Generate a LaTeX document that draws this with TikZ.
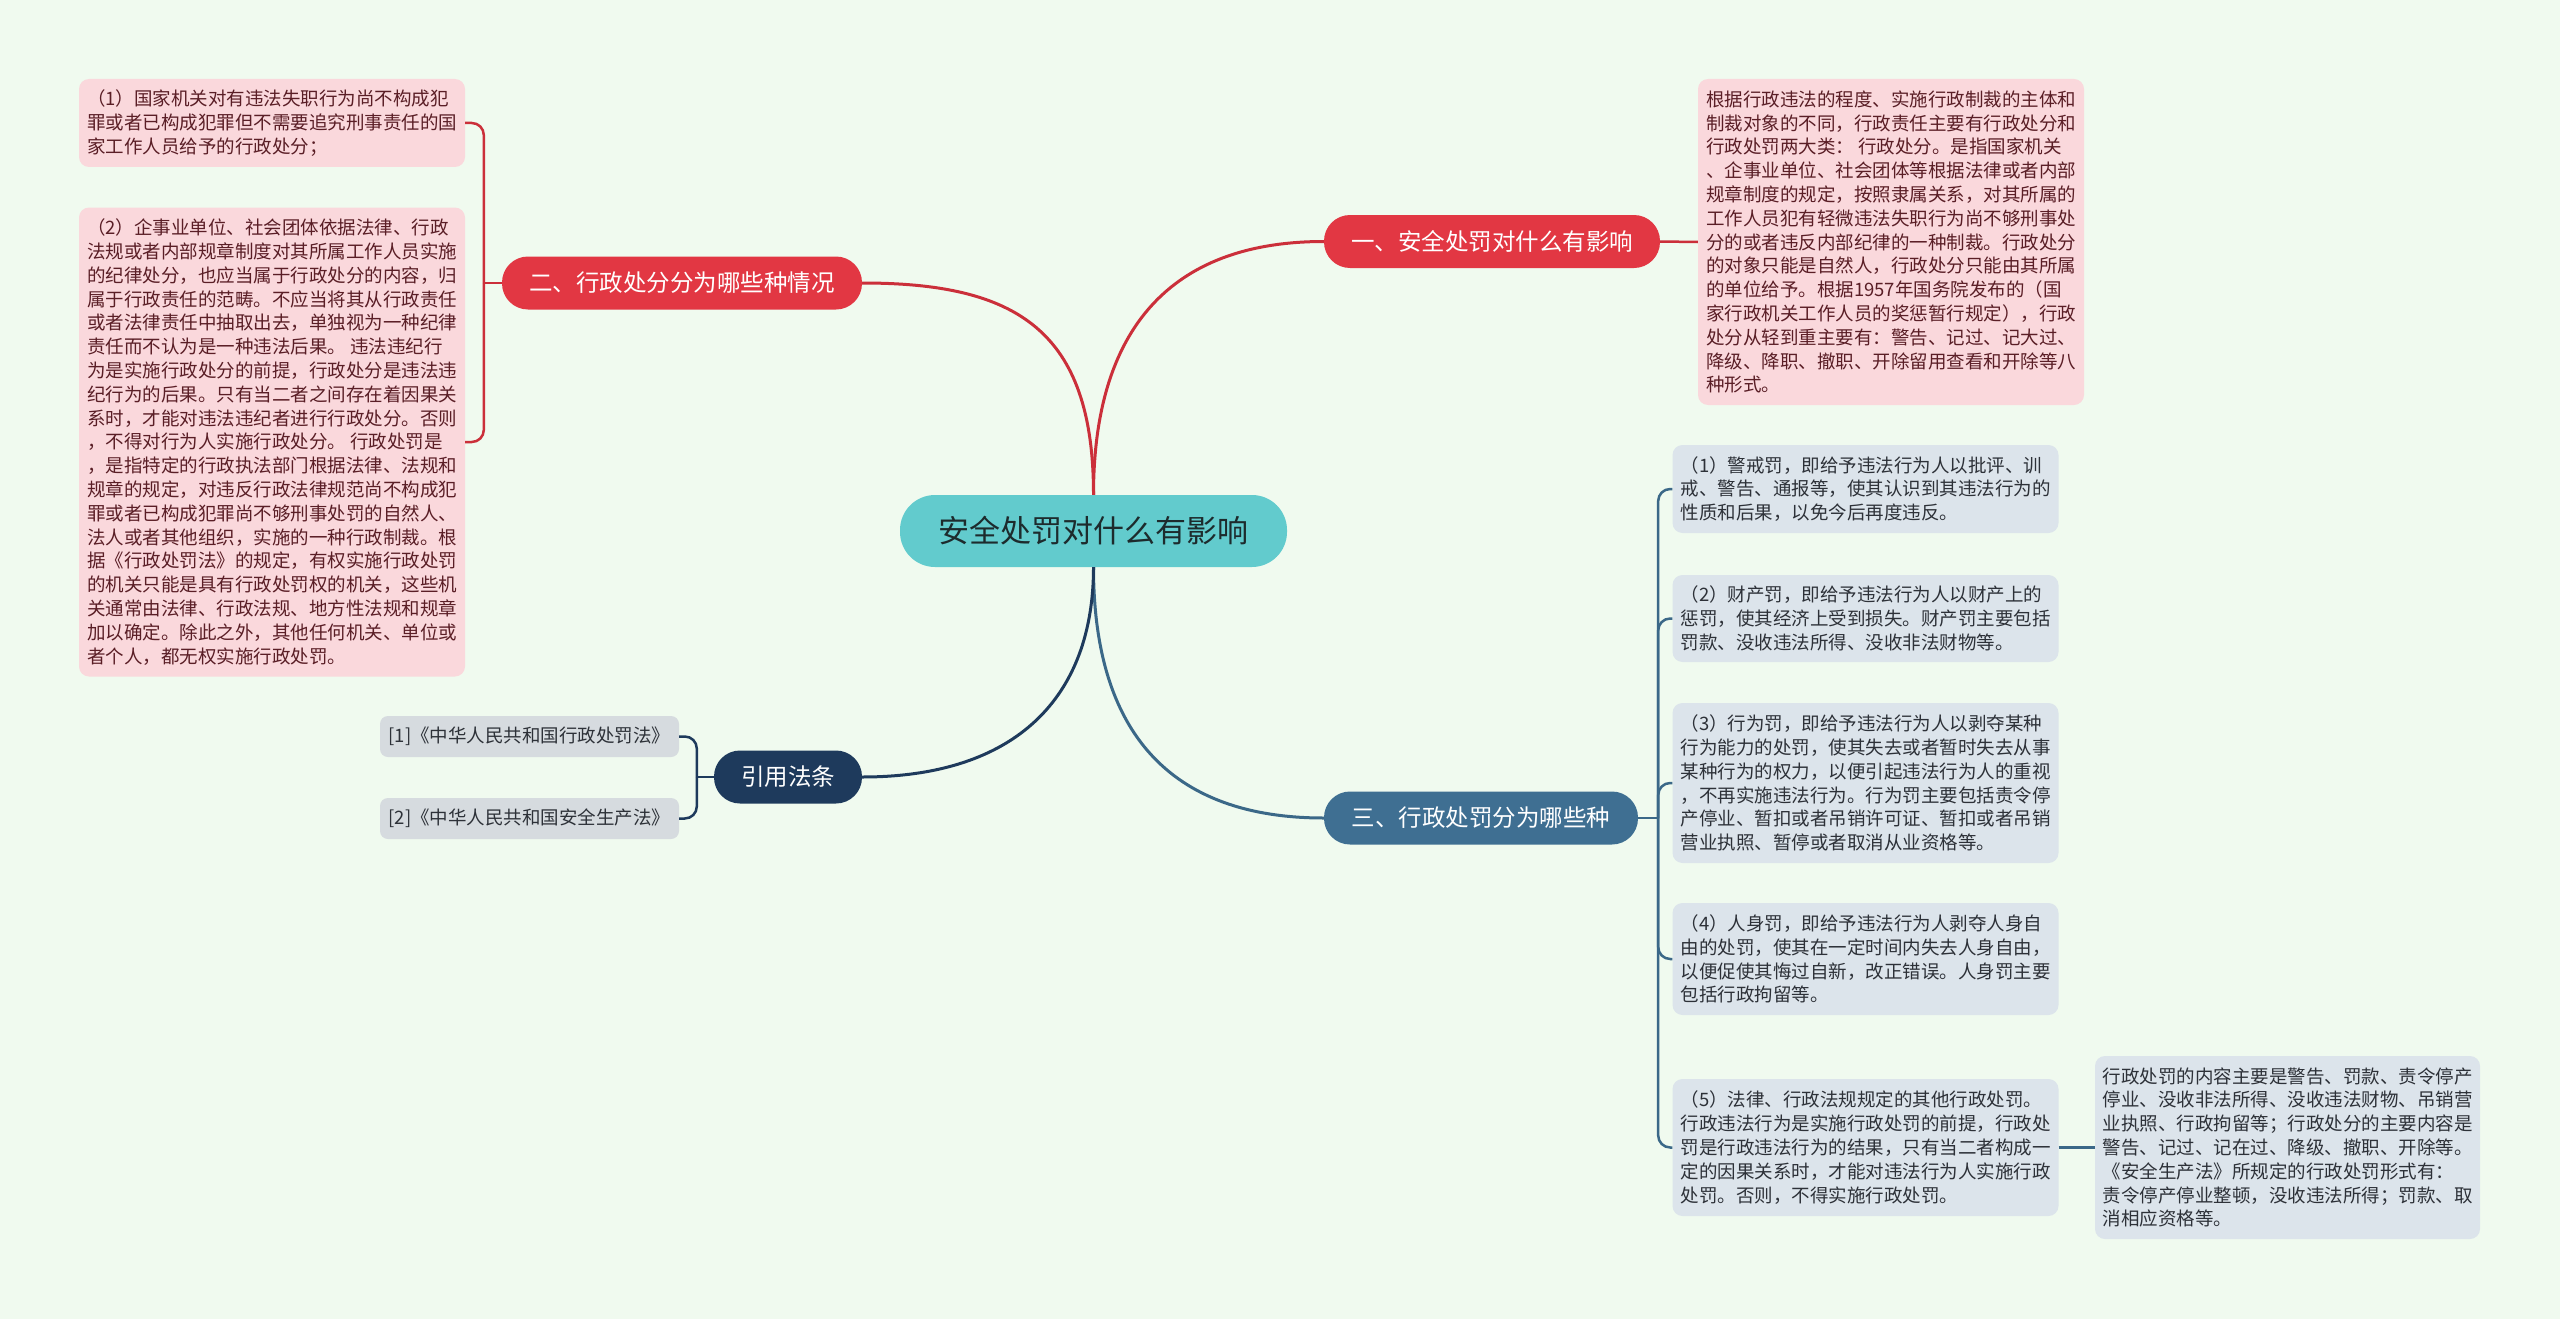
\documentclass[tikz,border=0pt]{standalone}
\usepackage{fontspec}
\setmainfont{Noto Sans CJK SC}
\usepackage{tikz}
\usetikzlibrary{calc}

\definecolor{bgcol}{HTML}{F0FAEF}
\definecolor{rootcol}{HTML}{62CBCD}
\definecolor{roottext}{HTML}{1D2B2D}
\definecolor{redcol}{HTML}{E23743}
\definecolor{redline}{HTML}{CB2F3A}
\definecolor{pinkcol}{HTML}{FAD8DC}
\definecolor{pinktext}{HTML}{5A1E26}
\definecolor{bluecol}{HTML}{3F6F92}
\definecolor{blueline}{HTML}{3B6888}
\definecolor{paleblue}{HTML}{DCE4EB}
\definecolor{navycol}{HTML}{1E3A5C}
\definecolor{graycol}{HTML}{D6DBDF}
\definecolor{leaftext}{HTML}{2D3138}

\begin{document}
\begin{tikzpicture}[x=1pt, y=-1pt,
    rootnode/.style={fill=rootcol, text=roottext, rounded corners=35pt, minimum width=387pt, minimum height=72pt, inner sep=0pt, font=\fontsize{31}{36}\selectfont},
    branchnode/.style={text=white, rounded corners=26pt, minimum height=53pt, inner sep=0pt, font=\fontsize{23.5}{28}\selectfont},
    leafnode/.style={rounded corners=10pt, inner sep=0pt, align=left, minimum width=386pt, font=\fontsize{18.5}{23.8}\selectfont},
    pinkleaf/.style={leafnode, fill=pinkcol, text=pinktext},
    blueleaf/.style={leafnode, fill=paleblue, text=leaftext},
    refleaf/.style={rounded corners=8pt, fill=graycol, text=leaftext, minimum width=299pt, minimum height=41pt, inner sep=0pt, font=\fontsize{18.5}{22}\selectfont},
    redlink/.style={draw=redline, line width=3pt},
    bluelink/.style={draw=blueline, line width=3pt},
    navylink/.style={draw=navycol, line width=3pt},
    bracket/.style={line width=2.5pt, rounded corners=12pt}
]

% ---- Canvas ----
\useasboundingbox (0,0) rectangle (2560,1319);
\fill[bgcol] (0,0) rectangle (2560,1319);

% ---- Root ----
\node[rootnode] (root) at (1093.5,531) {安全处罚对什么有影响};

% ---- Branches ----
\node[branchnode, fill=redcol, minimum width=336pt] (b1) at (1492,241.5) {一、安全处罚对什么有影响};
\node[branchnode, fill=redcol, minimum width=360pt] (b2) at (682,283) {二、行政处分分为哪些种情况};
\node[branchnode, fill=bluecol, minimum width=314pt] (b3) at (1481,818) {三、行政处罚分为哪些种};
\node[branchnode, fill=navycol, minimum width=148pt] (b4) at (788,777) {引用法条};

% ---- Leaves of branch one ----
\node[pinkleaf, minimum height=326pt] (p1) at (1891,242) {根据行政违法的程度、实施行政制裁的主体和\\
制裁对象的不同，行政责任主要有行政处分和\\
行政处罚两大类： 行政处分。是指国家机关\\
、企事业单位、社会团体等根据法律或者内部\\
规章制度的规定，按照隶属关系，对其所属的\\
工作人员犯有轻微违法失职行为尚不够刑事处\\
分的或者违反内部纪律的一种制裁。行政处分\\
的对象只能是自然人，行政处分只能由其所属\\
的单位给予。根据1957年国务院发布的（国\\
家行政机关工作人员的奖惩暂行规定），行政\\
处分从轻到重主要有：警告、记过、记大过、\\
降级、降职、撤职、开除留用查看和开除等八\\
种形式。};

% ---- Leaves of branch two ----
\node[pinkleaf, minimum height=88pt] (l1) at (272,123) {（1）国家机关对有违法失职行为尚不构成犯\\
罪或者已构成犯罪但不需要追究刑事责任的国\\
家工作人员给予的行政处分；};
\node[pinkleaf, minimum height=469pt] (l2) at (272,442) {（2）企事业单位、社会团体依据法律、行政\\
法规或者内部规章制度对其所属工作人员实施\\
的纪律处分，也应当属于行政处分的内容，归\\
属于行政责任的范畴。不应当将其从行政责任\\
或者法律责任中抽取出去，单独视为一种纪律\\
责任而不认为是一种违法后果。 违法违纪行\\
为是实施行政处分的前提，行政处分是违法违\\
纪行为的后果。只有当二者之间存在着因果关\\
系时，才能对违法违纪者进行行政处分。否则\\
，不得对行为人实施行政处分。 行政处罚是\\
，是指特定的行政执法部门根据法律、法规和\\
规章的规定，对违反行政法律规范尚不构成犯\\
罪或者已构成犯罪尚不够刑事处罚的自然人、\\
法人或者其他组织，实施的一种行政制裁。根\\
据《行政处罚法》的规定，有权实施行政处罚\\
的机关只能是具有行政处罚权的机关，这些机\\
关通常由法律、行政法规、地方性法规和规章\\
加以确定。除此之外，其他任何机关、单位或\\
者个人，都无权实施行政处罚。};

% ---- Leaves of branch three ----
\node[blueleaf, minimum height=88pt] (t1) at (1865.5,489) {（1）警戒罚，即给予违法行为人以批评、训\\
戒、警告、通报等，使其认识到其违法行为的\\
性质和后果，以免今后再度违反。};
\node[blueleaf, minimum height=87pt] (t2) at (1865.5,618.5) {（2）财产罚，即给予违法行为人以财产上的\\
惩罚，使其经济上受到损失。财产罚主要包括\\
罚款、没收违法所得、没收非法财物等。};
\node[blueleaf, minimum height=160pt] (t3) at (1865.5,783) {（3）行为罚，即给予违法行为人以剥夺某种\\
行为能力的处罚，使其失去或者暂时失去从事\\
某种行为的权力，以便引起违法行为人的重视\\
，不再实施违法行为。行为罚主要包括责令停\\
产停业、暂扣或者吊销许可证、暂扣或者吊销\\
营业执照、暂停或者取消从业资格等。};
\node[blueleaf, minimum height=112pt] (t4) at (1865.5,959) {（4）人身罚，即给予违法行为人剥夺人身自\\
由的处罚，使其在一定时间内失去人身自由，\\
以便促使其悔过自新，改正错误。人身罚主要\\
包括行政拘留等。};
\node[blueleaf, minimum height=137pt] (t5) at (1865.5,1147.5) {（5）法律、行政法规规定的其他行政处罚。\\
行政违法行为是实施行政处罚的前提，行政处\\
罚是行政违法行为的结果，只有当二者构成一\\
定的因果关系时，才能对违法行为人实施行政\\
处罚。否则，不得实施行政处罚。};
\node[blueleaf, minimum width=385pt, minimum height=183pt] (t6) at (2287.5,1147.5) {行政处罚的内容主要是警告、罚款、责令停产\\
停业、没收非法所得、没收违法财物、吊销营\\
业执照、行政拘留等；行政处分的主要内容是\\
警告、记过、记在过、降级、撤职、开除等。\\
《安全生产法》所规定的行政处罚形式有：\\
责令停产停业整顿，没收违法所得；罚款、取\\
消相应资格等。};

% ---- References ----
\node[refleaf] (r1) at (529.5,736.5) {[1]《中华人民共和国行政处罚法》};
\node[refleaf] (r2) at (529.5,818.5) {[2]《中华人民共和国安全生产法》};

% ---- Root links ----
\draw[redlink] (root.north) .. controls ($(root.north)+(0,-165)$) and ($(b1.west)+(-154,0)$) .. (b1.west);
\draw[redlink] (root.north) .. controls ($(root.north)+(0,-165)$) and ($(b2.east)+(154,0)$) .. (b2.east);
\draw[bluelink] (root.south) .. controls ($(root.south)+(0,165)$) and ($(b3.west)+(-154,0)$) .. (b3.west);
\draw[navylink] (root.south) .. controls ($(root.south)+(0,130)$) and ($(b4.east)+(154,0)$) .. (b4.east);

% ---- Junctions ----
\coordinate (j2) at ($(b2.west)+(-18,0)$);
\coordinate (j3) at ($(b3.east)+(20,0)$);
\coordinate (j4) at ($(b4.west)+(-17,0)$);

% ---- Branch links ----
\draw[redline, line width=2.5pt] (b1.east) -- (p1.west);
\draw[redline, line width=2.5pt] (b2.west) -- (j2);
\draw[redline, bracket] (j2) |- (l1.east);
\draw[redline, bracket] (j2) |- (l2.east);

\draw[blueline, line width=2.5pt] (b3.east) -- (j3);
\foreach \leaf in {t1,t2,t3,t4,t5}
  \draw[blueline, bracket] (j3) |- (\leaf.west);
\draw[blueline, line width=3pt] (t5.east) -- (t6.west);

\draw[navycol, line width=2.5pt] (b4.west) -- (j4);
\draw[navycol, bracket] (j4) |- (r1.east);
\draw[navycol, bracket] (j4) |- (r2.east);

\end{tikzpicture}
\end{document}
